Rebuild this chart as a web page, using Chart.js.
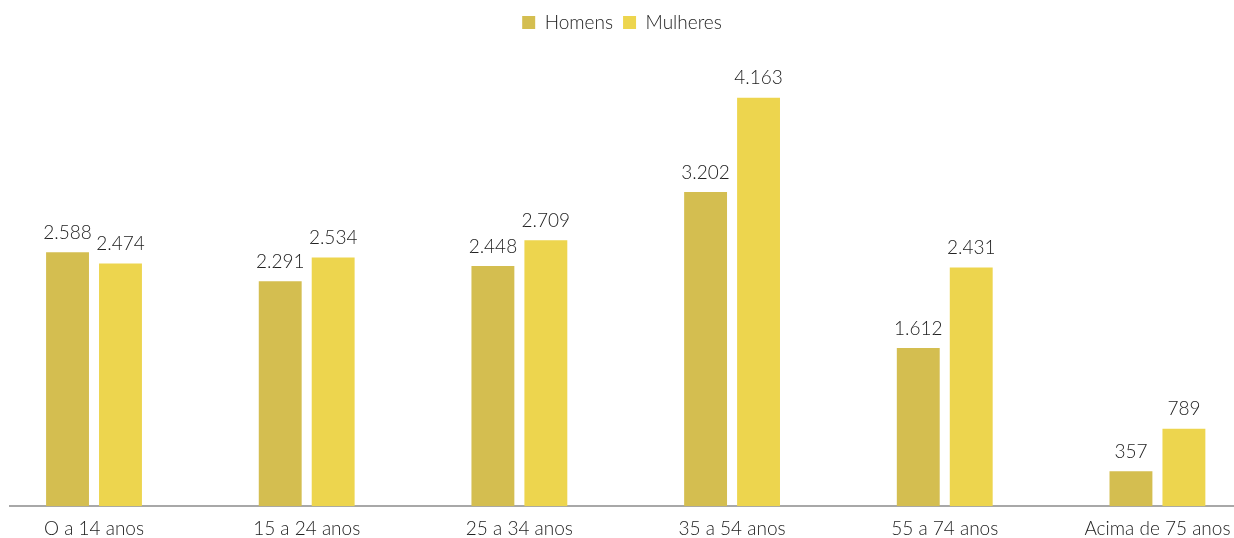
<!DOCTYPE html>
<html><head><meta charset="utf-8">
<script src="https://cdn.jsdelivr.net/npm/chart.js@4"></script>
<style>html,body{margin:0;padding:0;background:#fff}#c{display:block}</style>
</head><body>
<canvas id="c" width="1234" height="538"></canvas>
<script>
const categories = ["O a 14 anos","15 a 24 anos","25 a 34 anos","35 a 54 anos","55 a 74 anos","Acima de 75 anos"];
const homens = [2588,2291,2448,3202,1612,357];
const mulheres = [2474,2534,2709,4163,2431,789];
const seriesNames = ["Homens","Mulheres"];
const colors = ["#D4BE50","#EDD54E"];
const FONT = "Lato";

function fmt(v){ return String(v).replace(/\B(?=(\d{3})+(?!\d))/g,"."); }
const toPts = arr => arr.map((v,i)=>({x:i,y:v}));

const labelPlugin = {
  id:'vlabels',
  afterDatasetsDraw(chart){
    const ctx = chart.ctx;
    ctx.save();
    ctx.font = "300 19px " + FONT;
    ctx.fillStyle = "#222";
    ctx.textAlign = "center";
    ctx.textBaseline = "bottom";
    chart.data.datasets.forEach((ds,di)=>{
      chart.getDatasetMeta(di).data.forEach((bar,i)=>{
        ctx.fillText(fmt(ds.data[i].y), bar.x, bar.y - 10);
      });
    });
    ctx.restore();
  }
};

new Chart(document.getElementById('c'), {
  type:'bar',
  data:{
    datasets:[
      {label:seriesNames[0], data:toPts(homens), backgroundColor:colors[0]},
      {label:seriesNames[1], data:toPts(mulheres), backgroundColor:colors[1]}
    ]
  },
  options:{
    responsive:false,
    animation:false,
    devicePixelRatio:1,
    categoryPercentage:0.498,
    barPercentage:0.81,
    layout:{padding:{left:10,right:0,top:3,bottom:-5}},
    plugins:{
      legend:{
        position:'top',
        labels:{font:{family:FONT,size:19,weight:300},color:'#222',boxWidth:13,boxHeight:13,padding:10}
      },
      tooltip:{enabled:false}
    },
    scales:{
      x:{
        type:'linear',
        offset:false,
        min:-0.395,
        max:5.36,
        afterBuildTicks:s=>{ s.ticks = categories.map((_,i)=>({value:i})); },
        grid:{display:false},
        border:{display:true,color:'#A8A8A8',width:2},
        ticks:{
          autoSkip:false,maxRotation:0,
          font:{family:FONT,size:19,weight:300},color:'#222',padding:3,
          callback:(v)=>categories[v]
        }
      },
      y:{display:false,min:0,max:4730}
    }
  },
  plugins:[labelPlugin]
});
</script>
</body></html>
